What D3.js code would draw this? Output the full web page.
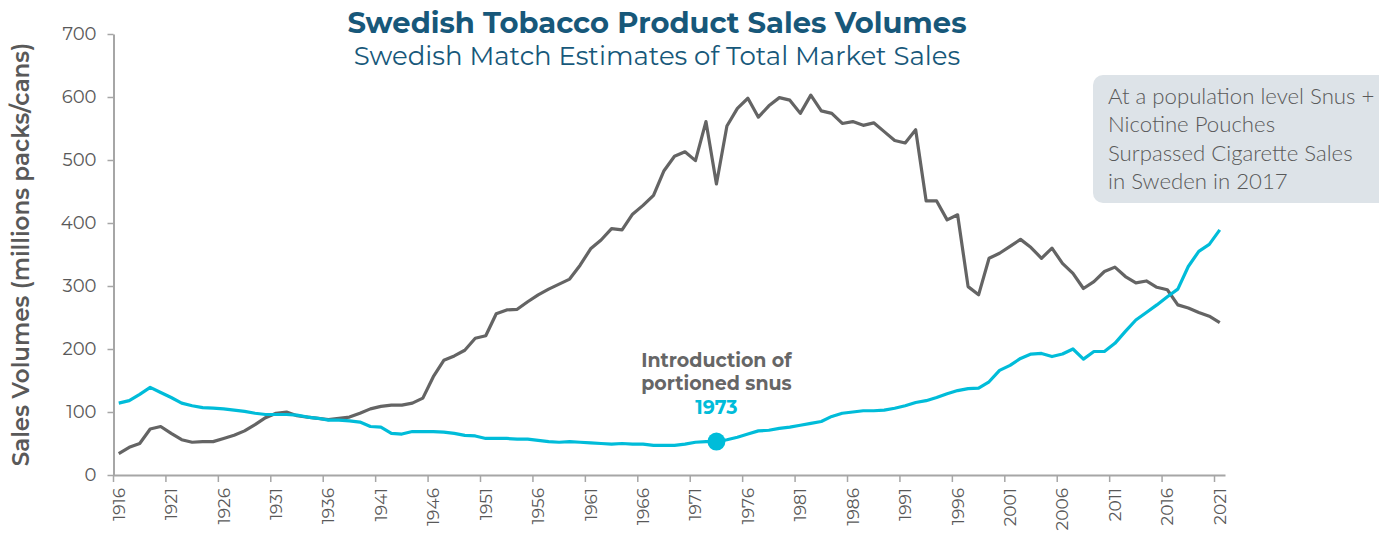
<!DOCTYPE html>
<html>
<head>
<meta charset="utf-8">
<script src="https://cdn.jsdelivr.net/npm/d3@7"></script>
<style>
  html, body { margin: 0; padding: 0; background: #ffffff; }
  svg { display: block; }
</style>
</head>
<body>
<svg id="chart" width="1379" height="534"></svg>
<script>
// Sales years, one category per year
const years = d3.range(1916, 2022);

// Cigarettes, millions of packs
const cigarettes = [
  34, 44, 50, 73, 77, 66, 56, 52, 53, 53,
  58, 63, 70, 80, 91, 98, 100, 94, 92, 90,
  88, 90, 92, 98, 105, 109, 111, 111, 114, 122,
  156, 182, 189, 198, 217, 221, 256, 262, 263, 275,
  286, 295, 303, 311, 333, 359, 373, 391, 389, 414,
  428, 444, 483, 506, 513, 499, 561, 462, 554, 582,
  598, 568, 586, 599, 595, 574, 603, 578, 574, 558,
  561, 555, 559, 545, 531, 527, 548, 435, 435, 405,
  413, 299, 286, 344, 352, 363, 374, 361, 344, 360,
  336, 320, 296, 307, 323, 330, 315, 305, 308, 298,
  294, 270, 265, 258, 252, 242
];

// Snus + nicotine pouches, millions of cans
const snus = [
  114, 118, 128, 139, 131, 123, 114, 110, 107, 106,
  105, 103, 101, 98, 96, 96, 96, 95, 92, 90,
  87, 87, 86, 84, 77, 76, 66, 65, 69, 69,
  69, 68, 66, 63, 62, 58, 58, 58, 57, 57,
  55, 53, 52, 53, 52, 51, 50, 49, 50, 49,
  49, 47, 47, 47, 49, 52, 53, 53, 56, 60,
  65, 70, 71, 74, 76, 79, 82, 85, 93, 98,
  100, 102, 102, 103, 106, 110, 115, 118, 123, 129,
  134, 137, 138, 148, 166, 174, 185, 192, 193, 188,
  192, 200, 184, 196, 196, 209, 228, 246, 258, 270,
  283, 295, 331, 355, 366, 389
];

const yTicks = [0, 100, 200, 300, 400, 500, 600, 700];
const xLabelYears = years.filter(yr => (yr - 1916) % 5 === 0);
const portionedYear = 1973;
const noteLines = [
  "At a population level Snus +",
  "Nicotine Pouches",
  "Surpassed Cigarette Sales",
  "in Sweden in 2017"
];

(function draw() {
  const svg = d3.select("#chart");
  const plotLeft = 113.5, plotRight = 1225, plotTop = 34, plotBottom = 475;

  const GREY_LINE = "#646464";
  const CYAN = "#00bcd9";
  const AXIS = "#a6a6a6";
  const TEXT = "#595959";
  const TITLE = "#17587a";
  const FONT = "Montserrat, 'Open Sans', sans-serif";

  const x = d3.scaleBand().domain(years).range([plotLeft, plotRight]).paddingInner(0).paddingOuter(0);
  const cx = yr => x(yr) + x.bandwidth() / 2;
  const y = d3.scaleLinear().domain([0, 700]).range([plotBottom, plotTop]);

  // Title block
  svg.append("text")
    .attr("x", 657).attr("y", 33)
    .attr("text-anchor", "middle")
    .attr("font-family", FONT)
    .attr("font-weight", 700).attr("font-size", 29)
    .attr("fill", TITLE)
    .text("Swedish Tobacco Product Sales Volumes");
  svg.append("text")
    .attr("x", 657).attr("y", 65)
    .attr("text-anchor", "middle")
    .attr("font-family", FONT)
    .attr("font-weight", 400).attr("font-size", 26)
    .attr("fill", TITLE)
    .text("Swedish Match Estimates of Total Market Sales");

  // Y axis
  const yAxis = svg.append("g")
    .attr("transform", `translate(${plotLeft},0)`)
    .call(d3.axisLeft(y).tickValues(yTicks).tickSize(6).tickSizeOuter(0).tickPadding(11));
  yAxis.select(".domain").attr("stroke", AXIS).attr("stroke-width", 2);
  yAxis.selectAll(".tick line").attr("stroke", AXIS).attr("stroke-width", 1.5);
  yAxis.selectAll(".tick text")
    .attr("font-family", FONT)
    .attr("font-size", 18).attr("fill", TEXT);

  // X axis: tick marks on category boundaries, labels on category centres
  const xAxis = svg.append("g")
    .attr("transform", `translate(0,${plotBottom})`)
    .call(d3.axisBottom(x).tickValues(xLabelYears).tickSize(7).tickSizeOuter(0));
  xAxis.select(".domain").attr("stroke", AXIS).attr("stroke-width", 2);
  xAxis.selectAll(".tick").attr("transform", d => `translate(${x(d)},0)`);
  xAxis.selectAll(".tick line").attr("stroke", AXIS).attr("stroke-width", 1.5);
  xAxis.selectAll(".tick text")
    .attr("font-family", FONT)
    .attr("font-size", 17).attr("fill", TEXT)
    .attr("text-anchor", "end")
    .attr("dy", "0.35em")
    .attr("x", 0).attr("y", 0)
    .attr("transform", `translate(${x.bandwidth() / 2},13) rotate(-90)`);

  // Y axis title
  svg.append("text")
    .attr("transform", `translate(29,${(plotTop + plotBottom) / 2}) rotate(-90)`)
    .attr("text-anchor", "middle")
    .attr("font-family", FONT)
    .attr("font-weight", 600).attr("font-size", 23)
    .attr("fill", TEXT)
    .text("Sales Volumes (millions packs/cans)");

  // Series lines
  const line = d3.line().x((d, i) => cx(years[i])).y(d => y(d));
  svg.append("path").datum(cigarettes)
    .attr("d", line).attr("fill", "none")
    .attr("stroke", GREY_LINE).attr("stroke-width", 3.2).attr("stroke-linejoin", "round");
  svg.append("path").datum(snus)
    .attr("d", line).attr("fill", "none")
    .attr("stroke", CYAN).attr("stroke-width", 3.2).attr("stroke-linejoin", "round");

  // Portioned snus marker
  const pIdx = years.indexOf(portionedYear);
  svg.append("circle")
    .attr("cx", cx(portionedYear)).attr("cy", y(snus[pIdx]))
    .attr("r", 9).attr("fill", CYAN);
  const intro = svg.append("g")
    .attr("font-family", FONT)
    .attr("font-weight", 700).attr("font-size", 19)
    .attr("text-anchor", "middle");
  intro.append("text").attr("x", cx(portionedYear)).attr("y", 367).attr("fill", "#666666").text("Introduction of");
  intro.append("text").attr("x", cx(portionedYear)).attr("y", 390).attr("fill", "#666666").text("portioned snus");
  intro.append("text").attr("x", cx(portionedYear)).attr("y", 414).attr("fill", CYAN).text(String(portionedYear));

  // Callout box
  svg.append("rect")
    .attr("x", 1093).attr("y", 75).attr("width", 300).attr("height", 128)
    .attr("rx", 10).attr("fill", "#dde3e8");
  svg.append("g")
    .attr("font-family", "'Source Sans Pro', Lato, sans-serif")
    .attr("font-weight", 300).attr("font-size", 22.2)
    .attr("fill", TEXT)
    .selectAll("text").data(noteLines).join("text")
    .attr("x", 1108).attr("y", (d, i) => 104 + i * 28.3)
    .text(d => d);
})();
</script>
</body>
</html>
